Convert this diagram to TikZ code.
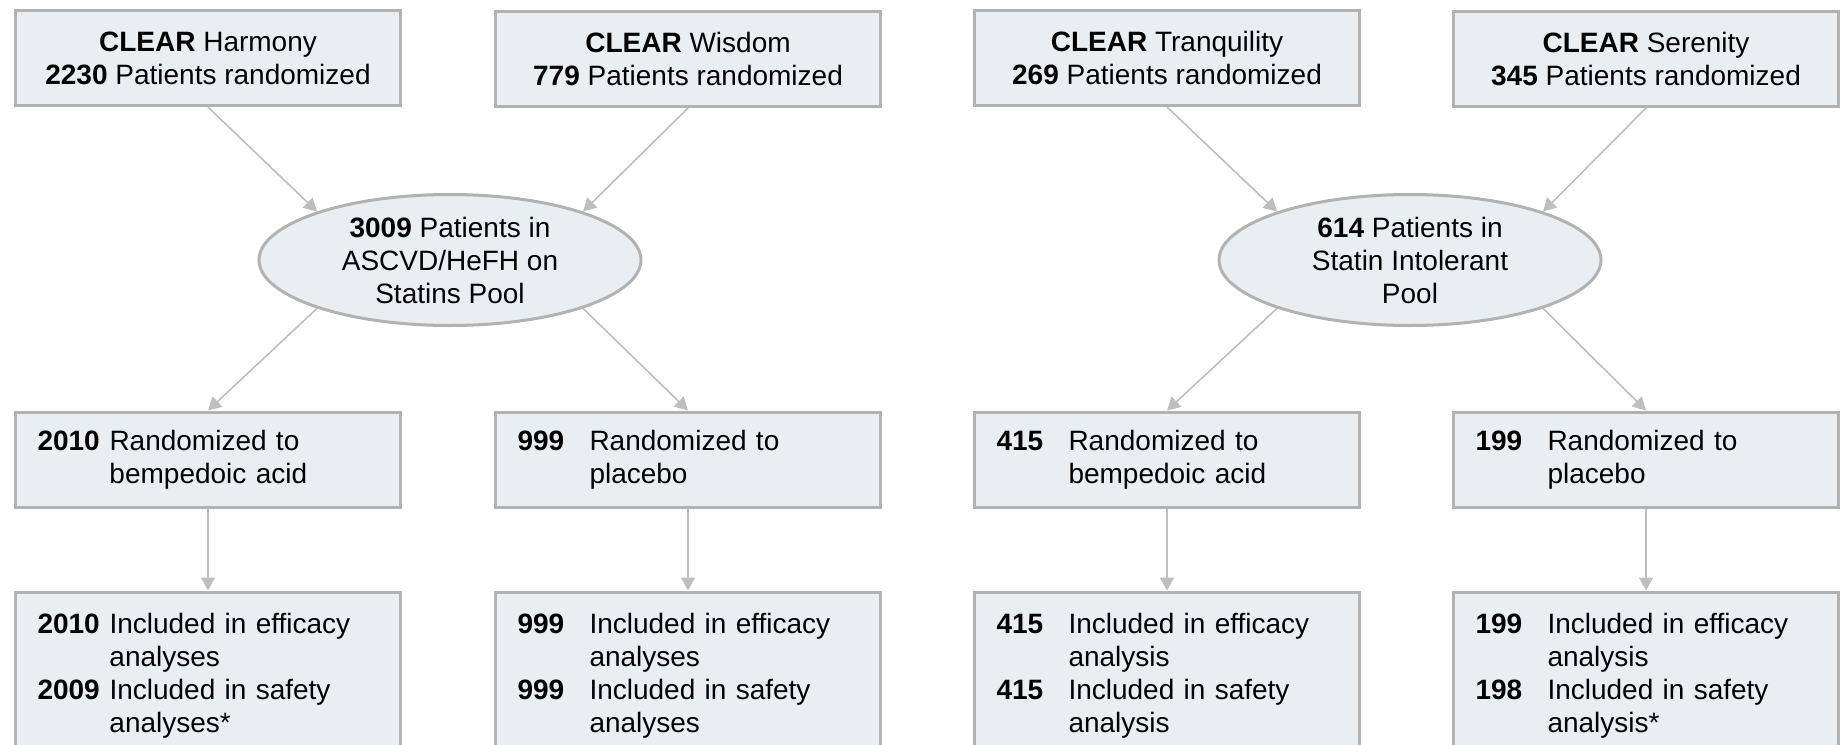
\documentclass[tikz,border=0pt]{standalone}
\usepackage{fontspec}
\setmainfont{Liberation Sans}
\usetikzlibrary{shapes.geometric, arrows.meta}
\definecolor{boxfill}{RGB}{233,238,242}
\definecolor{boxline}{RGB}{178,178,178}
\definecolor{arrowgray}{RGB}{190,190,190}
\newcommand{\numrow}[2]{\makebox[36pt][l]{\textbf{#1}}#2}
\newcommand{\wraprow}[1]{\hspace*{36pt}#1}

\begin{document}
\begin{tikzpicture}[x=0.5pt, y=-0.5pt,
        every node/.style={font=\fontsize{14}{16.5}\selectfont},
        trial/.style={draw=boxline, fill=boxfill, line width=1.5pt, minimum width=192.5pt, minimum height=47.5pt, align=center, inner sep=0pt},
        pool/.style={ellipse, draw=boxline, fill=boxfill, line width=1.5pt, minimum width=191pt, minimum height=65.5pt, align=center, inner sep=0pt},
        arm/.style={trial, align=left, text width=170.5pt, inner xsep=11pt},
        flow/.style={draw=arrowgray, line width=0.8pt, -{Triangle[length=6.5pt, width=7pt]}}]
        \clip (0,0) rectangle (1841,744);
        \node[trial] (harmony) at (208,58) {\textbf{CLEAR} Harmony\\\textbf{2230} Patients randomized};
        \node[trial] (wisdom) at (688,59) {\textbf{CLEAR} Wisdom\\\textbf{779} Patients randomized};
        \node[trial] (tranquility) at (1167,58) {\textbf{CLEAR} Tranquility\\\textbf{269} Patients randomized};
        \node[trial] (serenity) at (1646,59) {\textbf{CLEAR} Serenity\\\textbf{345} Patients randomized};
        \node[pool] (statinpool) at (450,260) {\textbf{3009} Patients in\\ASCVD/HeFH on\\Statins Pool};
        \node[pool] (intolpool) at (1410,260) {\textbf{614} Patients in\\Statin Intolerant\\Pool};
        \node[arm] (bempa) at (208,459.5) {\numrow{2010}{Randomized to}\\\wraprow{bempedoic acid}};
        \node[arm] (placa) at (688,459.5) {\numrow{999}{Randomized to}\\\wraprow{placebo}};
        \node[arm] (bempb) at (1167,459.5) {\numrow{415}{Randomized to}\\\wraprow{bempedoic acid}};
        \node[arm] (placb) at (1646,459.5) {\numrow{199}{Randomized to}\\\wraprow{placebo}};
        \node[arm, minimum height=84pt] (resa) at (208,676) {\numrow{2010}{Included in efficacy}\\\wraprow{analyses}\\\numrow{2009}{Included in safety}\\\wraprow{analyses*}};
        \node[arm, minimum height=84pt] (resb) at (688,676) {\numrow{999}{Included in efficacy}\\\wraprow{analyses}\\\numrow{999}{Included in safety}\\\wraprow{analyses}};
        \node[arm, minimum height=84pt] (resc) at (1167,676) {\numrow{415}{Included in efficacy}\\\wraprow{analysis}\\\numrow{415}{Included in safety}\\\wraprow{analysis}};
        \node[arm, minimum height=84pt] (resd) at (1646,676) {\numrow{199}{Included in efficacy}\\\wraprow{analysis}\\\numrow{198}{Included in safety}\\\wraprow{analysis*}};
        \draw[flow] (harmony.south) -- (statinpool.160);
        \draw[flow] (wisdom.south) -- (statinpool.20);
        \draw[flow] (tranquility.south) -- (intolpool.160);
        \draw[flow] (serenity.south) -- (intolpool.20);
        \draw[flow] (statinpool.200) -- (bempa.north);
        \draw[flow] (statinpool.340) -- (placa.north);
        \draw[flow] (intolpool.200) -- (bempb.north);
        \draw[flow] (intolpool.340) -- (placb.north);
        \draw[flow] (bempa) -- (resa);
        \draw[flow] (placa) -- (resb);
        \draw[flow] (bempb) -- (resc);
        \draw[flow] (placb) -- (resd);
    \end{tikzpicture}
\end{document}
